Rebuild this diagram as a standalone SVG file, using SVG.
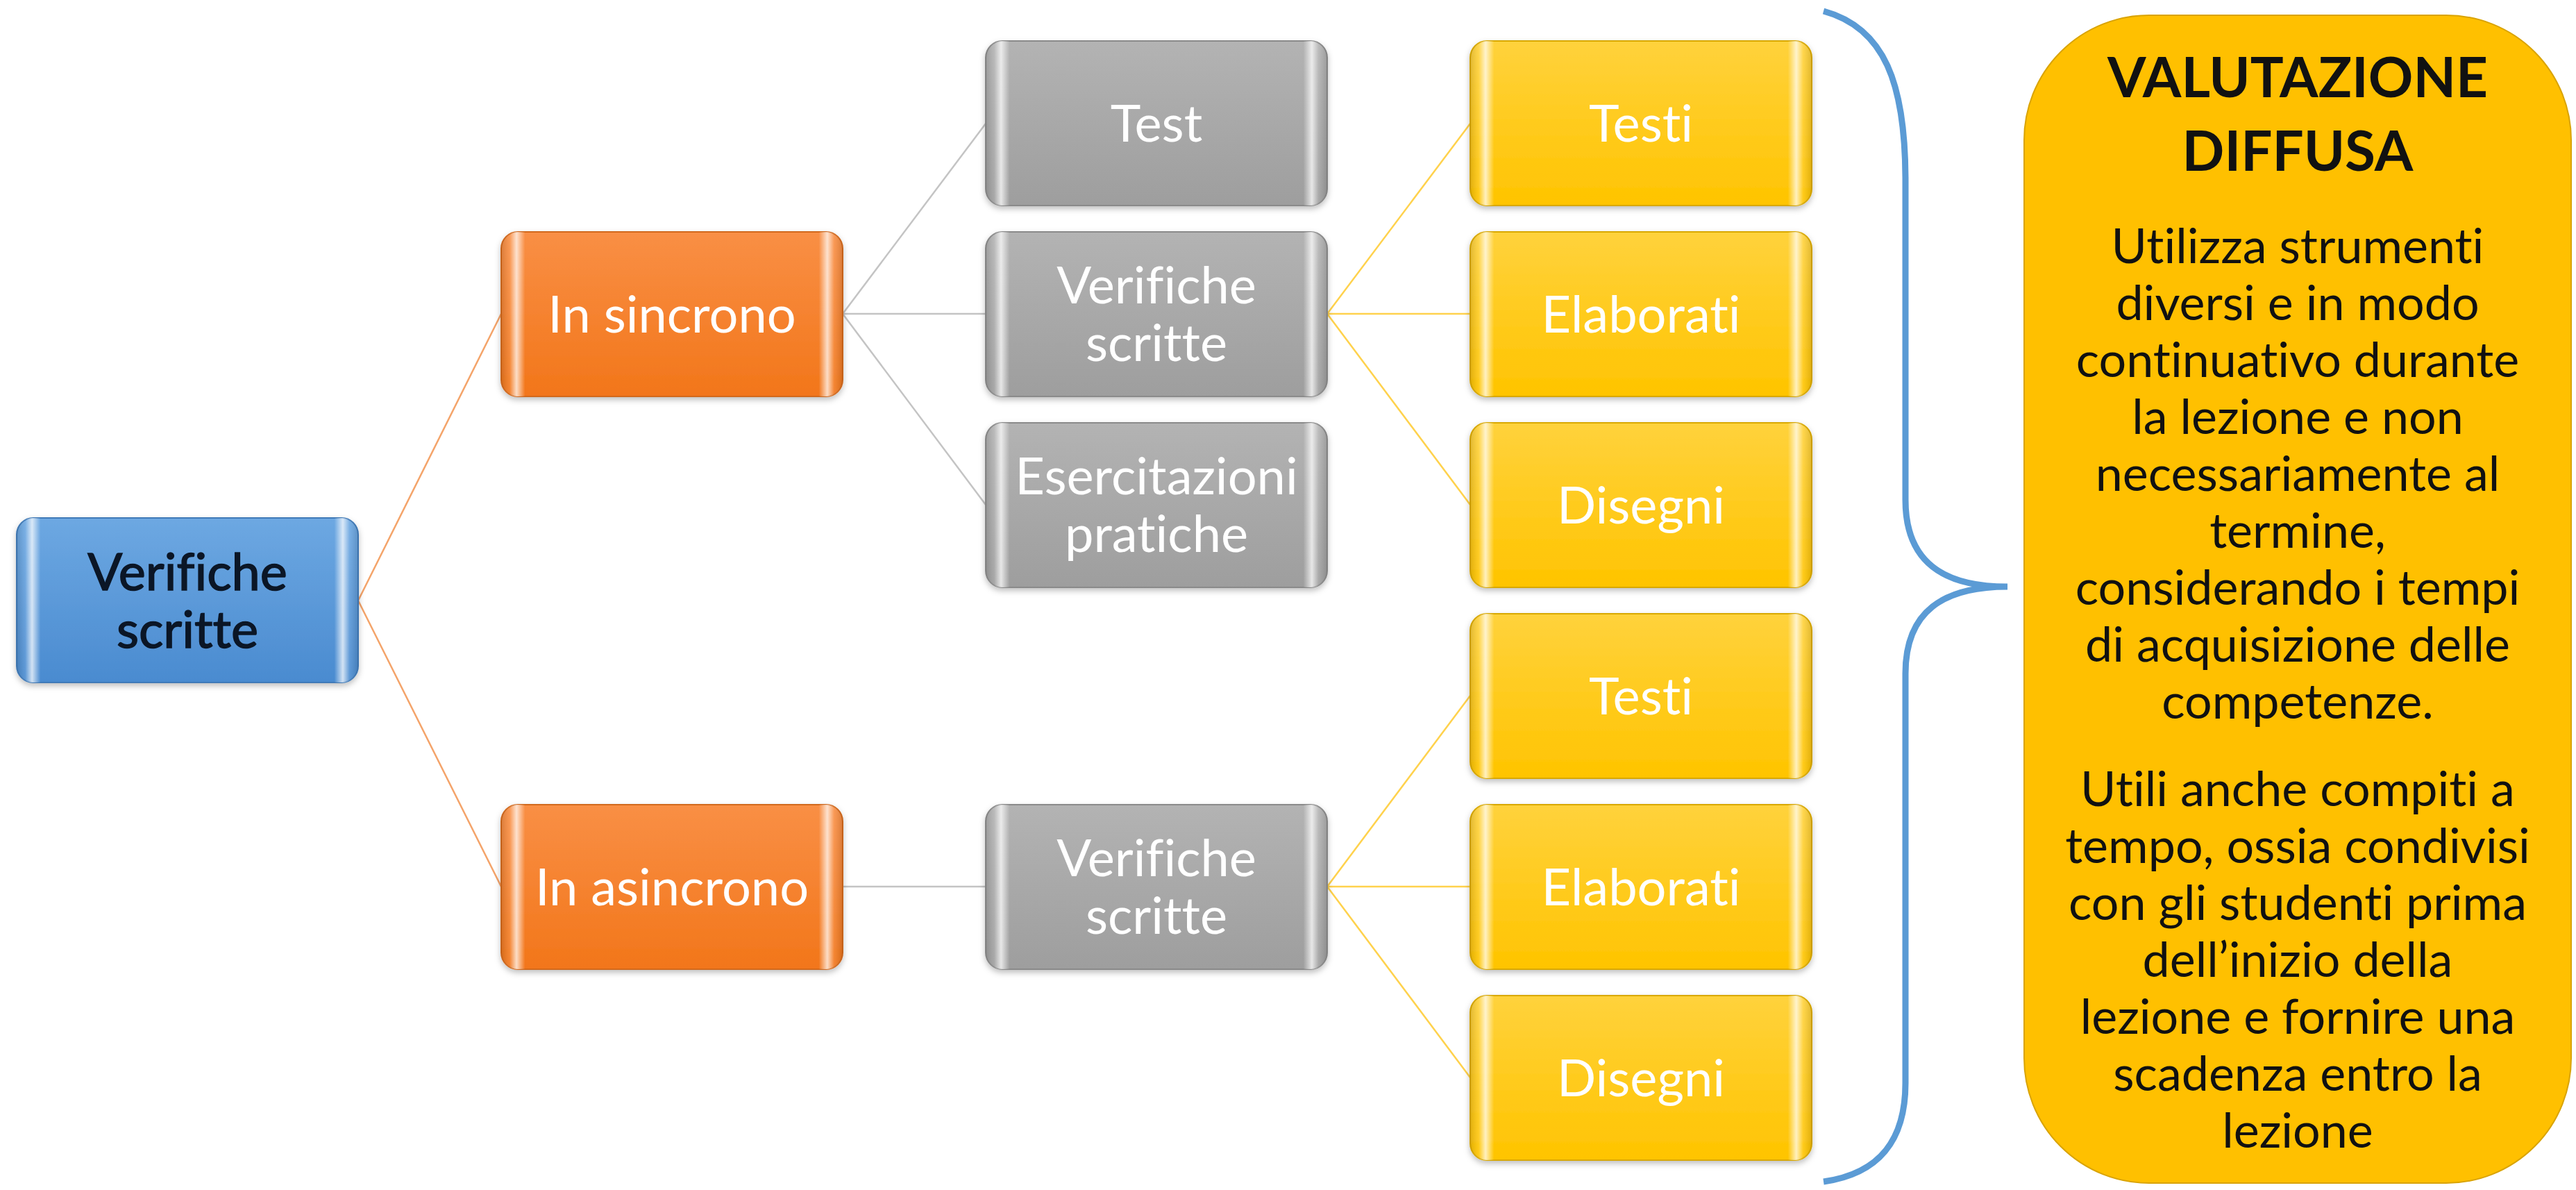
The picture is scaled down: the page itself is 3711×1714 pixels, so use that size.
<svg xmlns="http://www.w3.org/2000/svg" width="3711" height="1714" viewBox="0 0 3711 1714">
<defs>
<linearGradient id="gBlue" x1="0" y1="0" x2="0" y2="1"><stop offset="0" stop-color="#6DA8E2"/><stop offset="1" stop-color="#4A8BD0"/></linearGradient>
<linearGradient id="gOrange" x1="0" y1="0" x2="0" y2="1"><stop offset="0" stop-color="#F98F45"/><stop offset="1" stop-color="#F2761A"/></linearGradient>
<linearGradient id="gGrey" x1="0" y1="0" x2="0" y2="1"><stop offset="0" stop-color="#B3B3B3"/><stop offset="1" stop-color="#9E9E9E"/></linearGradient>
<linearGradient id="gYellow" x1="0" y1="0" x2="0" y2="1"><stop offset="0" stop-color="#FFD23C"/><stop offset="1" stop-color="#FFC400"/></linearGradient>
<linearGradient id="bevel" x1="0" y1="0" x2="1" y2="0">
<stop offset="0" stop-color="#000" stop-opacity="0.12"/>
<stop offset="0.025" stop-color="#fff" stop-opacity="0.1"/>
<stop offset="0.045" stop-color="#fff" stop-opacity="0.75"/>
<stop offset="0.07" stop-color="#fff" stop-opacity="0"/>
<stop offset="0.93" stop-color="#fff" stop-opacity="0"/>
<stop offset="0.955" stop-color="#fff" stop-opacity="0.75"/>
<stop offset="0.975" stop-color="#fff" stop-opacity="0.1"/>
<stop offset="1" stop-color="#000" stop-opacity="0.12"/>
</linearGradient>
<filter id="sh" x="-5%" y="-5%" width="110%" height="115%"><feDropShadow dx="0" dy="4" stdDeviation="4" flood-color="#000" flood-opacity="0.25"/></filter>
</defs>
<style>
.n{stroke-width:2}
.blue{fill:url(#gBlue);stroke:#3F7AB8}
.orange{fill:url(#gOrange);stroke:#D2691E}
.grey{fill:url(#gGrey);stroke:#8A8A8A}
.yellow{fill:url(#gYellow);stroke:#D9A800}
.bv{fill:url(#bevel);stroke:none}
text{font-variant-ligatures:none;font-feature-settings:"liga" 0,"clig" 0}
.t{font-family:Lato,"Open Sans","Liberation Sans",sans-serif;font-size:74px;text-anchor:middle;fill:#FFFFFF}
.td{fill:#0B1626;stroke:#0B1626;stroke-width:1.5}
.c{fill:none;stroke-width:2.5}
.co{stroke:#F4A46A}
.cg{stroke:#C4C4C4}
.cy{stroke:#FFD24D}
.bt{font-family:Lato,"Open Sans","Liberation Sans",sans-serif;font-size:70px;text-anchor:middle;fill:#111111}
.bh{font-weight:bold;font-size:80px}
</style>
<rect width="3711" height="1714" fill="#FFFFFF"/>
<g id="connectors">
<path class="c co" d="M516 865 L722 452 M516 865 L722 1277"/>
<path class="c cg" d="M1214 452 L1420 178 M1214 452 L1420 452 M1214 452 L1420 727 M1214 1277 L1420 1277"/>
<path class="c cy" d="M1912 452 L2118 178 M1912 452 L2118 452 M1912 452 L2118 727 M1912 1277 L2118 1002 M1912 1277 L2118 1277 M1912 1277 L2118 1552"/>
</g>
<g id="root"><rect class="n blue" x="24" y="746" width="492" height="237" rx="24" filter="url(#sh)"/><rect class="bv" x="24" y="746" width="492" height="237" rx="24"/><text class="t td" x="270" y="850">Verifiche</text><text class="t td" x="270" y="933">scritte</text></g>
<g id="sincrono"><rect class="n orange" x="722" y="334" width="492" height="237" rx="24" filter="url(#sh)"/><rect class="bv" x="722" y="334" width="492" height="237" rx="24"/><text class="t" x="968" y="479">In sincrono</text></g>
<g id="asincrono"><rect class="n orange" x="722" y="1159" width="492" height="237" rx="24" filter="url(#sh)"/><rect class="bv" x="722" y="1159" width="492" height="237" rx="24"/><text class="t" x="968" y="1304">In asincrono</text></g>
<g id="test"><rect class="n grey" x="1420" y="59" width="492" height="237" rx="24" filter="url(#sh)"/><rect class="bv" x="1420" y="59" width="492" height="237" rx="24"/><text class="t" x="1666" y="204">Test</text></g>
<g id="verifiche1"><rect class="n grey" x="1420" y="334" width="492" height="237" rx="24" filter="url(#sh)"/><rect class="bv" x="1420" y="334" width="492" height="237" rx="24"/><text class="t" x="1666" y="437">Verifiche</text><text class="t" x="1666" y="520">scritte</text></g>
<g id="esercitazioni"><rect class="n grey" x="1420" y="609" width="492" height="237" rx="24" filter="url(#sh)"/><rect class="bv" x="1420" y="609" width="492" height="237" rx="24"/><text class="t" x="1666" y="712">Esercitazioni</text><text class="t" x="1666" y="795">pratiche</text></g>
<g id="verifiche2"><rect class="n grey" x="1420" y="1159" width="492" height="237" rx="24" filter="url(#sh)"/><rect class="bv" x="1420" y="1159" width="492" height="237" rx="24"/><text class="t" x="1666" y="1262">Verifiche</text><text class="t" x="1666" y="1345">scritte</text></g>
<g id="testi1"><rect class="n yellow" x="2118" y="59" width="492" height="237" rx="24" filter="url(#sh)"/><rect class="bv" x="2118" y="59" width="492" height="237" rx="24"/><text class="t" x="2364" y="204">Testi</text></g>
<g id="elaborati1"><rect class="n yellow" x="2118" y="334" width="492" height="237" rx="24" filter="url(#sh)"/><rect class="bv" x="2118" y="334" width="492" height="237" rx="24"/><text class="t" x="2364" y="479">Elaborati</text></g>
<g id="disegni1"><rect class="n yellow" x="2118" y="609" width="492" height="237" rx="24" filter="url(#sh)"/><rect class="bv" x="2118" y="609" width="492" height="237" rx="24"/><text class="t" x="2364" y="754">Disegni</text></g>
<g id="testi2"><rect class="n yellow" x="2118" y="884" width="492" height="237" rx="24" filter="url(#sh)"/><rect class="bv" x="2118" y="884" width="492" height="237" rx="24"/><text class="t" x="2364" y="1029">Testi</text></g>
<g id="elaborati2"><rect class="n yellow" x="2118" y="1159" width="492" height="237" rx="24" filter="url(#sh)"/><rect class="bv" x="2118" y="1159" width="492" height="237" rx="24"/><text class="t" x="2364" y="1304">Elaborati</text></g>
<g id="disegni2"><rect class="n yellow" x="2118" y="1434" width="492" height="237" rx="24" filter="url(#sh)"/><rect class="bv" x="2118" y="1434" width="492" height="237" rx="24"/><text class="t" x="2364" y="1579">Disegni</text></g>
<g id="brace"><path d="M2627 16 C2715 40 2745 120 2745 260 L2745 720 C2745 810 2800 845 2892 845 C2800 845 2745 880 2745 970 L2745 1560 C2745 1640 2710 1690 2627 1702" fill="none" stroke="#5B9BD5" stroke-width="9"/></g>
<g id="valutazione">
<rect x="2916" y="22" width="788" height="1682" rx="180" fill="#FFC000" stroke="#D9A300" stroke-width="2"/>
<text class="bt bh" x="3310" y="140">VALUTAZIONE</text>
<text class="bt bh" x="3310" y="246">DIFFUSA</text>
<text class="bt" x="3310" y="379">Utilizza strumenti</text>
<text class="bt" x="3310" y="461">diversi e in modo</text>
<text class="bt" x="3310" y="543">continuativo durante</text>
<text class="bt" x="3310" y="625">la lezione e non</text>
<text class="bt" x="3310" y="707">necessariamente al</text>
<text class="bt" x="3310" y="789">termine,</text>
<text class="bt" x="3310" y="871">considerando i tempi</text>
<text class="bt" x="3310" y="953">di acquisizione delle</text>
<text class="bt" x="3310" y="1035">competenze.</text>
<text class="bt" x="3310" y="1161">Utili anche compiti a</text>
<text class="bt" x="3310" y="1243">tempo, ossia condivisi</text>
<text class="bt" x="3310" y="1325">con gli studenti prima</text>
<text class="bt" x="3310" y="1407">dell’inizio della</text>
<text class="bt" x="3310" y="1489">lezione e fornire una</text>
<text class="bt" x="3310" y="1571">scadenza entro la</text>
<text class="bt" x="3310" y="1653">lezione</text>
</g>
</svg>
